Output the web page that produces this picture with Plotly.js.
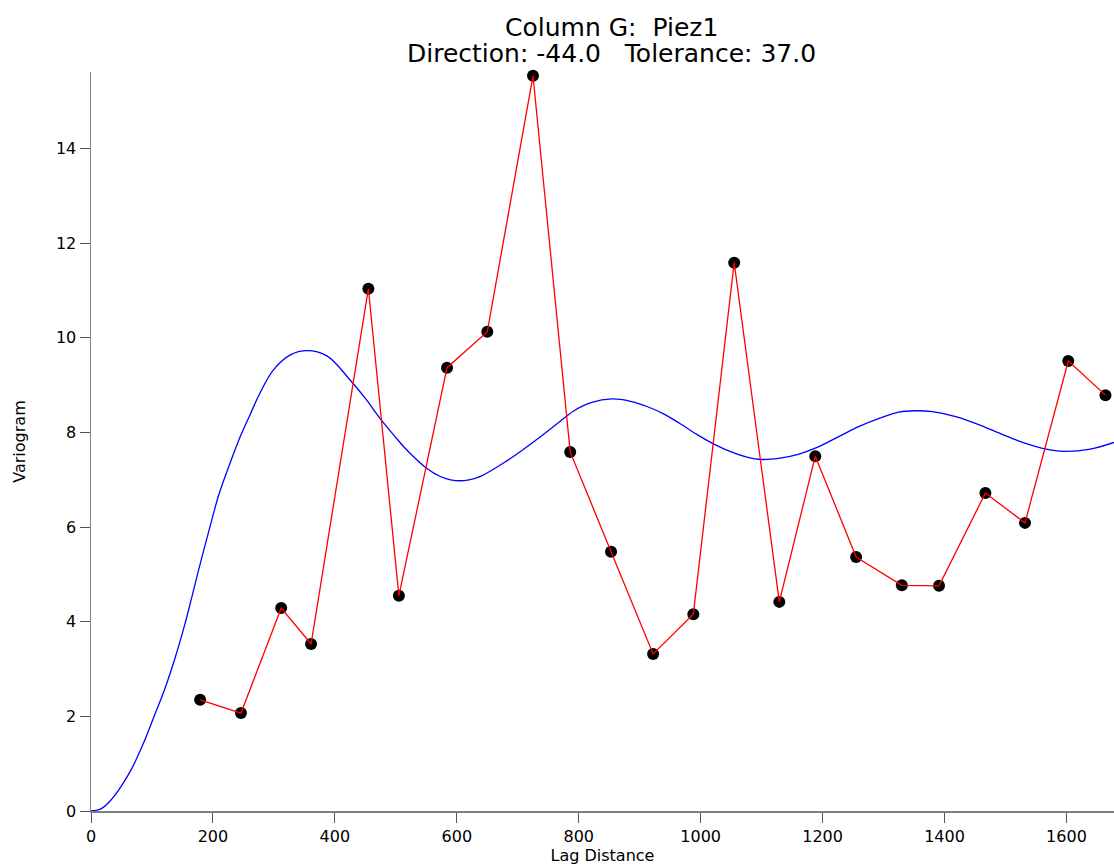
<!DOCTYPE html>
<html>
<head>
<meta charset="utf-8">
<script src="https://cdn.plot.ly/plotly-3.0.1.min.js"></script>
<style>html,body{margin:0;padding:0;background:#fff;}#chart{width:1114px;height:867px;}</style>
</head>
<body>
<div id="chart"></div>
<script>
// Experimental variogram points
const lagX = [179, 246, 312, 361, 455, 505, 584, 650, 725, 786, 853, 922, 988, 1055, 1129, 1188, 1255, 1330, 1391, 1467, 1532, 1603, 1664];
const gammaY = [2.35, 2.07, 4.29, 3.53, 11.04, 4.55, 9.37, 10.13, 15.54, 7.59, 5.48, 3.32, 4.16, 11.59, 4.42, 7.50, 5.37, 4.77, 4.76, 6.72, 6.09, 9.51, 8.79];

// Fitted model curve
const modelX = [0, 17, 34, 50, 67, 86, 105, 121, 138, 154, 165, 179, 195, 210, 228, 245, 260, 277, 299, 327, 354, 387, 425, 450, 474, 497, 518, 551, 573, 590, 605, 620, 640, 682, 710, 737, 765, 791, 820, 855, 885, 912, 940, 966, 995, 1021, 1050, 1076, 1100, 1130, 1160, 1190, 1229, 1260, 1295, 1325, 1352, 1380, 1420, 1455, 1491, 1520, 1546, 1575, 1600, 1639, 1678];
const modelY = [0, 0.05, 0.25, 0.53, 0.90, 1.43, 2.05, 2.58, 3.24, 3.95, 4.50, 5.22, 6.00, 6.70, 7.35, 7.92, 8.35, 8.83, 9.32, 9.64, 9.73, 9.62, 9.11, 8.72, 8.30, 7.94, 7.63, 7.24, 7.07, 7.00, 6.98, 7.00, 7.08, 7.40, 7.65, 7.91, 8.19, 8.45, 8.63, 8.71, 8.66, 8.55, 8.39, 8.19, 7.95, 7.76, 7.59, 7.48, 7.43, 7.46, 7.54, 7.68, 7.93, 8.13, 8.31, 8.43, 8.46, 8.44, 8.33, 8.17, 7.98, 7.83, 7.72, 7.63, 7.60, 7.65, 7.79];

const xTicks = [0, 200, 400, 600, 800, 1000, 1200, 1400, 1600];
const yTicks = [0, 2, 4, 6, 8, 10, 12, 14];

const titleLine1 = "Column G:\u00A0\u00A0Piez1";
const titleLine2 = "Direction: -44.0\u00A0\u00A0\u00A0Tolerance: 37.0";

const font = "DejaVu Sans, Arial, sans-serif";

const traces = [
  {
    x: modelX, y: modelY, type: 'scatter', mode: 'lines',
    line: {color: '#0000ff', width: 1.3, shape: 'spline', smoothing: 1},
    hoverinfo: 'skip'
  },
  {
    x: lagX, y: gammaY, type: 'scatter', mode: 'markers',
    marker: {color: '#000000', size: 12, line: {width: 0}},
    cliponaxis: false
  },
  {
    x: lagX, y: gammaY, type: 'scatter', mode: 'lines',
    line: {color: '#ff0000', width: 1.3},
    cliponaxis: false
  }
];

const layout = {
  width: 1114, height: 867,
  margin: {l: 91, r: 0, t: 72, b: 56},
  paper_bgcolor: '#ffffff', plot_bgcolor: '#ffffff',
  showlegend: false,
  font: {family: font, size: 16, color: '#000000'},
  title: {
    text: titleLine1,
    font: {family: font, size: 25, color: '#000000'},
    x: 0.509, xref: 'paper', xanchor: 'center',
    y: 1 - 27 / 867, yref: 'container', yanchor: 'middle'
  },
  annotations: [
    {
      text: titleLine2, showarrow: false,
      xref: 'paper', x: 0.509, xanchor: 'center',
      yref: 'paper', y: (811 - 54) / 739, yanchor: 'middle',
      font: {family: font, size: 25, color: '#000000'}
    }
  ],
  xaxis: {
    range: [0, 1678], autorange: false,
    tickvals: xTicks, ticktext: xTicks.map(String),
    ticks: 'outside', ticklen: 10, tickwidth: 1, tickcolor: '#555555',
    showline: true, linecolor: '#808080', linewidth: 1.5,
    showgrid: false, zeroline: false,
    tickfont: {family: font, size: 16, color: '#000000'},
    title: {text: 'Lag Distance', font: {family: font, size: 16, color: '#000000'}, standoff: 4}
  },
  yaxis: {
    range: [0, 15.62], autorange: false,
    tickvals: yTicks, ticktext: yTicks.map(String),
    ticks: 'outside', ticklen: 10, tickwidth: 1, tickcolor: '#555555',
    showline: true, linecolor: '#808080', linewidth: 1.5,
    showgrid: false, zeroline: false,
    tickfont: {family: font, size: 16, color: '#000000'},
    title: {text: 'Variogram', font: {family: font, size: 16, color: '#000000'}, standoff: 26}
  }
};

Plotly.newPlot('chart', traces, layout, {displayModeBar: false, staticPlot: true});
</script>
</body>
</html>
